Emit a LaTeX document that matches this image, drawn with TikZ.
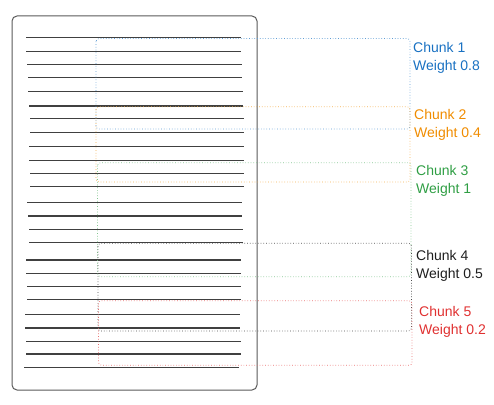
\documentclass[tikz,border=0pt]{standalone}
\usepackage{fontspec}
\setmainfont{Liberation Sans}
\usepackage{xcolor}
\usetikzlibrary{positioning}

\definecolor{cblue}{HTML}{1971C2}
\definecolor{corange}{HTML}{F08C00}
\definecolor{cgreen}{HTML}{2F9E44}
\definecolor{cblack}{HTML}{1E1E1E}
\definecolor{cred}{HTML}{E03131}

\tikzset{
  page/.style={draw=black!65, line width=1pt, rounded corners=5pt},
  textline/.style={draw=black!75, line width=1.3pt},
  chunkbox/.style={dotted, line width=0.7pt, rounded corners=3pt},
  chunklabel/.style={anchor=west, inner sep=0pt, align=left,
    font=\fontsize{14}{18}\selectfont},
}

\begin{document}
\begin{tikzpicture}[x=1pt,y=-1pt]
\useasboundingbox (0,0) rectangle (494,404);

% the document page
\draw[page] (12,16) rectangle (257,390);

% lines of text on the page
\foreach \y/\xa/\xb in {37.7/26/241, 51.7/26/241, 64.3/27/242, 77.7/28/242,
  91.3/28/243, 106/29/243, 118.7/30/244, 132.3/30/244, 146.7/29/244,
  160.3/29/244, 173.3/30/244, 186.7/30/244, 202.3/27/242, 216/28/242,
  229.3/29/243, 242.3/29/243, 260/26/241, 273.7/26/241, 286.7/27/241,
  299.7/27/241, 314.7/25/240, 328/25/240, 341.3/26/241, 354/26/241,
  367.7/24/239}
  \draw[textline] (\xa,\y) -- (\xb,\y);

% chunks
\draw[chunkbox, draw=cblue!70]   (96,38.5) rectangle (410,129);
\draw[chunkbox, draw=corange!70] (96,106.7) rectangle (410,182);
\draw[chunkbox, draw=cgreen!60]  (97.5,162.7) rectangle (411,276.7);
\draw[chunkbox, draw=cblack!80]  (98,243.3) rectangle (411.5,331);
\draw[chunkbox, draw=cred!70]    (98.5,300.7) rectangle (412,365.3);

% weights
\node[chunklabel, text=cblue]   (c1) at (413,58)  {Chunk 1\\Weight 0.8};
\node[chunklabel, text=corange] (c2) at (414,125) {Chunk 2\\Weight 0.4};
\node[chunklabel, text=cgreen]  (c3) at (416,180.5) {Chunk 3\\Weight 1};
\node[chunklabel, text=cblack]  (c4) at (416,266) {Chunk 4\\Weight 0.5};
\node[chunklabel, text=cred]    (c5) at (419,321.5) {Chunk 5\\Weight 0.2};
\end{tikzpicture}
\end{document}
